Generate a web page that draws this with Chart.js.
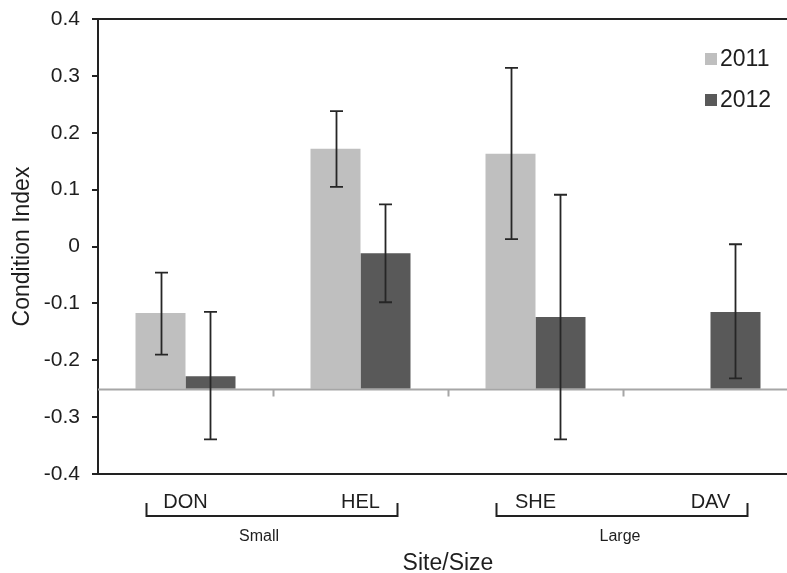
<!DOCTYPE html>
<html>
<head>
<meta charset="utf-8">
<script src="https://cdn.jsdelivr.net/npm/chart.js@4"></script>
<style>
  html, body { margin: 0; padding: 0; background: #fff; overflow: hidden; }
  #wrap { width: 800px; height: 573px; }
</style>
</head>
<body>
<div id="wrap"><canvas id="mycanvas" width="800" height="573"></canvas></div>
<script>
// data
var sites = ['DON', 'HEL', 'SHE', 'DAV'];
var seriesNames = ['2011', '2012'];
var values2011 = [-0.117, 0.172, 0.163, null];
var values2012 = [-0.228, -0.012, -0.124, -0.115];
var errTop2011 = [-0.046, 0.238, 0.314, null];
var errBot2011 = [-0.190, 0.105, 0.013, null];
var errTop2012 = [-0.115, 0.074, 0.091, 0.004];
var errBot2012 = [-0.339, -0.098, -0.339, -0.232];
var barBase = -0.25;
var sizeGroups = ['Small', 'Large'];
var groupMembers = [[0, 1], [2, 3]];
var yTicks = [-0.4, -0.3, -0.2, -0.1, 0, 0.1, 0.2, 0.3, 0.4];

var FONT = "'Liberation Sans', Arial, sans-serif";
var TEXT = '#1e1e1e';

var extras = {
	id: 'extras',
	afterDatasetsDraw: function(chart) {
		var ctx = chart.ctx;
		var ys = chart.scales.y, xs = chart.scales.x;
		var area = chart.chartArea;
		ctx.save();

		// top border
		ctx.strokeStyle = '#222';
		ctx.lineWidth = 2;
		ctx.beginPath();
		ctx.moveTo(area.left, area.top);
		ctx.lineTo(area.right, area.top);
		ctx.stroke();

		// baseline the bars stand on, with category ticks
		var by = Math.round(ys.getPixelForValue(barBase)) + 0.5;
		ctx.strokeStyle = '#a6a6a6';
		ctx.lineWidth = 2;
		ctx.beginPath();
		ctx.moveTo(area.left, by);
		ctx.lineTo(area.right, by);
		var w = (area.right - area.left) / sites.length;
		for (var k = 1; k <= sites.length; k++) {
			var tx = Math.round(area.left + k * w) + 0.5;
			ctx.moveTo(tx, by);
			ctx.lineTo(tx, by + 7);
		}
		ctx.stroke();

		// error bars
		var tops = [errTop2011, errTop2012];
		var bots = [errBot2011, errBot2012];
		ctx.strokeStyle = '#262626';
		ctx.lineWidth = 1.8;
		chart.data.datasets.forEach(function(ds, i) {
			var meta = chart.getDatasetMeta(i);
			meta.data.forEach(function(bar, j) {
				if (tops[i][j] == null) return;
				var x = Math.round(bar.x) + 0.5;
				var y1 = ys.getPixelForValue(tops[i][j]);
				var y2 = ys.getPixelForValue(bots[i][j]);
				ctx.beginPath();
				ctx.moveTo(x, y1); ctx.lineTo(x, y2);
				ctx.moveTo(x - 6.5, y1); ctx.lineTo(x + 6.5, y1);
				ctx.moveTo(x - 6.5, y2); ctx.lineTo(x + 6.5, y2);
				ctx.stroke();
			});
		});

		// legend
		ctx.font = '23px ' + FONT;
		ctx.textBaseline = 'middle';
		ctx.textAlign = 'left';
		chart.data.datasets.forEach(function(ds, i) {
			var ly = 59 + i * 41;
			ctx.fillStyle = ds.backgroundColor;
			ctx.fillRect(705, ly - 6, 12, 12);
			ctx.fillStyle = TEXT;
			ctx.fillText(ds.label, 720, ly + 1);
		});

		// size group brackets
		ctx.strokeStyle = '#222';
		ctx.lineWidth = 2;
		ctx.font = '16px ' + FONT;
		ctx.textAlign = 'center';
		var shift = [-13, -2];
		groupMembers.forEach(function(m, g) {
			var x1 = Math.round(xs.getPixelForValue(m[0]) - 40) + 0.5;
			var x2 = Math.round(xs.getPixelForValue(m[m.length - 1]) + 36) + 0.5;
			ctx.beginPath();
			ctx.moveTo(x1, 503); ctx.lineTo(x1, 516); ctx.lineTo(x2, 516); ctx.lineTo(x2, 503);
			ctx.stroke();
			ctx.fillStyle = TEXT;
			ctx.fillText(sizeGroups[g], (x1 + x2) / 2 + shift[g], 537);
		});
		ctx.restore();
	}
};

var chartdata = {
	labels: sites,
	datasets: [
		{
			label: seriesNames[0],
			data: values2011,
			base: barBase,
			backgroundColor: '#bfbfbf',
			borderWidth: 0
		},
		{
			label: seriesNames[1],
			data: values2012,
			base: barBase,
			backgroundColor: '#595959',
			borderWidth: 0
		}
	]
};

var barGraph = new Chart(document.getElementById('mycanvas'), {
	type: 'bar',
	data: chartdata,
	options: {
		responsive: false,
		animation: false,
		events: [],
		layout: { padding: { top: 19, right: 2, left: 0, bottom: 0 } },
		datasets: { bar: { categoryPercentage: 0.5714, barPercentage: 1 } },
		plugins: { legend: { display: false }, tooltip: { enabled: false } },
		scales: {
			x: {
				grid: { display: false, drawTicks: false },
				border: { display: true, color: '#222', width: 2 },
				ticks: { color: TEXT, font: { family: FONT, size: 20 }, padding: 16 },
				title: {
					display: true, text: 'Site/Size', color: TEXT,
					font: { family: FONT, size: 23, lineHeight: 0.8 }, padding: { top: 0, bottom: 0 }
				},
				afterFit: function(s) { s.height = 99; }
			},
			y: {
				min: -0.4,
				max: 0.4,
				afterBuildTicks: function(s) { s.ticks = yTicks.map(function(v) { return { value: v }; }); },
				grid: { drawOnChartArea: false, drawTicks: true, tickLength: 6, color: '#222', lineWidth: 2 },
				border: { display: true, color: '#222', width: 2 },
				ticks: {
					color: TEXT, font: { family: FONT, size: 21 }, padding: 12,
					callback: function(v) { return String(Math.round(v * 10) / 10); }
				},
				title: {
					display: true, text: 'Condition Index', color: TEXT,
					font: { family: FONT, size: 23, lineHeight: 1 }, padding: { top: 11, bottom: 0 }
				},
				afterFit: function(s) { s.width = 98; s.paddingTop = 0; s.paddingBottom = 0; }
			}
		}
	},
	plugins: [extras]
});
</script>
</body>
</html>
